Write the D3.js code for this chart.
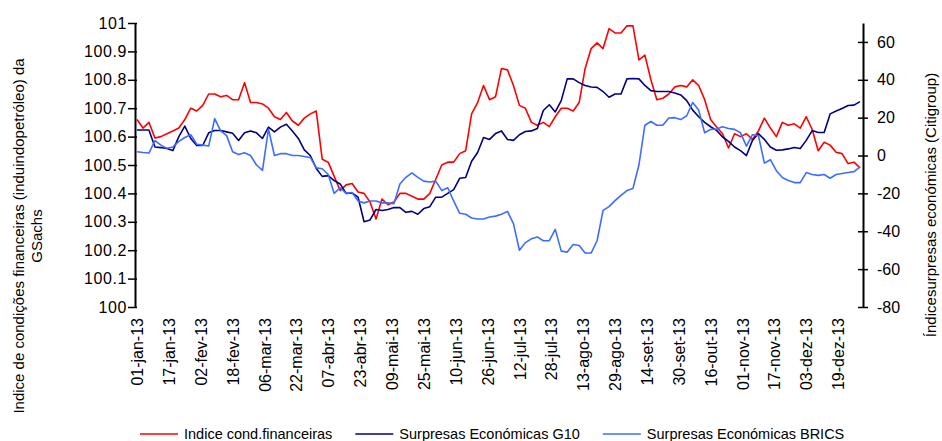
<!DOCTYPE html>
<html>
<head>
<meta charset="utf-8">
<script src="https://cdn.jsdelivr.net/npm/d3@7"></script>
<style>
  body { margin: 0; background: #fff; }
  svg { font-family: "Liberation Sans", Arial, sans-serif; }
</style>
</head>
<body>
<svg width="942" height="441"></svg>
<script>
// dates sampled every 3 days (2013)
var dates = ["01-01","01-04","01-07","01-10","01-13","01-16","01-19","01-22","01-25","01-28","01-31",
  "02-03","02-06","02-09","02-12","02-15","02-18","02-21","02-24","02-27",
  "03-02","03-05","03-08","03-11","03-14","03-17","03-20","03-23","03-26","03-29",
  "04-01","04-04","04-07","04-10","04-13","04-16","04-19","04-22","04-25","04-28",
  "05-01","05-04","05-07","05-10","05-13","05-16","05-19","05-22","05-25","05-28","05-31",
  "06-03","06-06","06-09","06-12","06-15","06-18","06-21","06-24","06-27","06-30",
  "07-03","07-06","07-09","07-12","07-15","07-18","07-21","07-24","07-27","07-30",
  "08-02","08-05","08-08","08-11","08-14","08-17","08-20","08-23","08-26","08-29",
  "09-01","09-04","09-07","09-10","09-13","09-16","09-19","09-22","09-25","09-28",
  "10-01","10-04","10-07","10-10","10-13","10-16","10-19","10-22","10-25","10-28","10-31",
  "11-03","11-06","11-09","11-12","11-15","11-18","11-21","11-24","11-27","11-30",
  "12-03","12-06","12-09","12-12","12-15","12-18","12-21","12-24","12-27","12-30"];

// Indice cond. financeiras (eixo esquerdo)
var indice = [100.66,100.63,100.65,100.595,100.60,100.61,100.62,100.63,100.66,100.70,
  100.69,100.71,100.75,100.75,100.74,100.745,100.73,100.73,100.79,100.72,
  100.72,100.715,100.70,100.67,100.66,100.685,100.655,100.64,100.665,100.68,
  100.69,100.52,100.51,100.46,100.41,100.43,100.435,100.405,100.40,100.37,
  100.31,100.38,100.36,100.37,100.40,100.40,100.39,100.38,100.38,100.40,
  100.45,100.50,100.51,100.51,100.54,100.55,100.68,100.72,100.78,100.73,
  100.74,100.84,100.835,100.78,100.71,100.70,100.65,100.64,100.65,100.635,
  100.67,100.70,100.70,100.69,100.72,100.84,100.91,100.93,100.91,100.98,
  100.965,100.965,100.99,100.99,100.87,100.887,100.80,100.73,100.735,100.75,
  100.775,100.78,100.775,100.80,100.78,100.73,100.66,100.634,100.61,100.56,
  100.61,100.60,100.61,100.59,100.62,100.665,100.63,100.60,100.65,100.64,
  100.645,100.63,100.67,100.625,100.55,100.58,100.57,100.545,100.54,100.505,
  100.51,100.49];

// Surpresas Económicas G10 (eixo direito)
var g10 = [13.5,13.5,13.5,4.5,4.2,3.7,2.6,10,15.5,9,
  5.3,5.3,12,13.2,13.2,12.5,11.8,8,12,13,
  12,9,15,12.5,15,16.5,13,9,3,0,
  -6.8,-11,-10.6,-13.2,-15,-20,-19.8,-22,-35,-34,
  -28.5,-29,-28.5,-27.5,-27.5,-30,-29.5,-31,-28,-27,
  -22,-22,-20,-18,-12,-11.6,-3,1.6,9.5,8.5,
  11.6,13,8.5,8,11,12.7,13,14.3,23.8,26.8,
  23,29,40.5,40.5,38.5,37,36.2,36,33.8,30.8,
  32.5,32.5,40.5,40.7,40.5,37,34.3,33.8,33.8,33.8,
  33,32,29,24,20.5,17.5,15.2,13.3,9.8,7.5,
  4.5,2.6,0,8,11.6,8.5,4.5,2.8,3,3.5,
  4.2,3.7,8,13.2,12.2,12.2,22,23.5,24.8,26.4,
  26.6,28.5];

// Surpresas Económicas BRICS (eixo direito)
var brics = [2,1.6,1.3,7.9,5.5,3.8,4.5,7.5,9.5,11,
  6,5.5,5,19.5,13,10.5,2,0.5,1.5,0,
  -5,-7.8,14,0,1,1,0,0,-0.5,-1,
  -6.5,-7,-10,-20,-17,-20,-19.5,-24,-25,-24,
  -24,-25,-25,-25.4,-15,-11.5,-9.2,-11.5,-13.5,-14,
  -13.5,-18.5,-17,-24,-30.5,-31,-33,-33.5,-33.5,-32.5,
  -32,-31,-29.5,-36,-50,-46,-44,-43,-45,-45,
  -39,-50.5,-51,-47,-47.5,-51.5,-51.5,-45,-29,-27,
  -23.8,-21,-18.5,-17.4,-5,16,18,16,16,19.8,
  20,19,21,28,24,12,13.8,14,15.2,14.3,
  13.8,12,5,11,10.5,-4,-2.2,-8,-11.6,-13.2,
  -14.3,-14.3,-9,-10,-10.5,-10,-12,-10,-9.5,-9,
  -8.5,-6];

var xTickDates = ["01-01","01-17","02-02","02-18","03-06","03-22","04-07","04-23","05-09","05-25",
  "06-10","06-26","07-12","07-28","08-13","08-29","09-14","09-30","10-16","11-01","11-17","12-03","12-19"];
var xTickLabels = ["01-jan-13","17-jan-13","02-fev-13","18-fev-13","06-mar-13","22-mar-13","07-abr-13",
  "23-abr-13","09-mai-13","25-mai-13","10-jun-13","26-jun-13","12-jul-13","28-jul-13","13-ago-13",
  "29-ago-13","14-set-13","30-set-13","16-out-13","01-nov-13","17-nov-13","03-dez-13","19-dez-13"];
var leftTicks = [100,100.1,100.2,100.3,100.4,100.5,100.6,100.7,100.8,100.9,101];
var leftTickLabels = ["100","100.1","100.2","100.3","100.4","100.5","100.6","100.7","100.8","100.9","101"];
var rightTicks = [-80,-60,-40,-20,0,20,40,60];
var rightTickLabels = ["-80","-60","-40","-20","0","20","40","60"];

var seriesNames = ["Indice cond.financeiras","Surpresas Económicas G10","Surpresas Económicas BRICS"];
var colors = ["#ff0000","#000080","#3d6dff"];

var parse = function(s){ return d3.timeParse("%Y-%m-%d")("2013-" + s); };
var dd = dates.map(parse);

var svg = d3.select("svg");
var plotL = 135, plotR = 863, plotT = 23, plotB = 307;

var x = d3.scaleTime()
  .domain([new Date(2013,0,1), new Date(2013,11,31)])
  .range([137, 862]);
var yL = d3.scaleLinear().domain([100, 101]).range([plotB, plotT]);
var yR = d3.scaleLinear().domain([-80, 70]).range([plotB, plotT]);

svg.append("clipPath").attr("id","plot")
  .append("rect").attr("x", plotL).attr("y", plotT - 1)
  .attr("width", plotR - plotL).attr("height", plotB - plotT + 1);

var lineL = d3.line().x(function(d,i){ return x(dd[i]); }).y(function(d){ return yL(d); });
var lineR = d3.line().x(function(d,i){ return x(dd[i]); }).y(function(d){ return yR(d); });

var plot = svg.append("g").attr("clip-path","url(#plot)");
plot.append("path").datum(indice).attr("d", lineL)
  .attr("fill","none").attr("stroke", colors[0]).attr("stroke-width",1.6).attr("stroke-linejoin","round");
plot.append("path").datum(g10).attr("d", lineR)
  .attr("fill","none").attr("stroke", colors[1]).attr("stroke-width",1.6).attr("stroke-linejoin","round");
plot.append("path").datum(brics).attr("d", lineR)
  .attr("fill","none").attr("stroke", colors[2]).attr("stroke-width",1.6).attr("stroke-linejoin","round");

// left axis
var gL = svg.append("g").attr("transform","translate(" + plotL + ",0)")
  .call(d3.axisLeft(yL).tickValues(leftTicks)
    .tickFormat(function(d,i){ return leftTickLabels[i]; })
    .tickSizeOuter(0).tickSizeInner(7).tickPadding(1));
gL.select(".domain").attr("stroke","#000").attr("stroke-width",2);
gL.selectAll(".tick line").attr("x1",2).attr("x2",-7).attr("stroke","#000").attr("stroke-width",1.5);
gL.selectAll(".tick text").attr("font-size",16).attr("fill","#000")
  .attr("font-family","Liberation Sans, Arial, sans-serif").attr("letter-spacing",0.6);

// right axis
var gR = svg.append("g").attr("transform","translate(" + plotR + ",0)")
  .call(d3.axisRight(yR).tickValues(rightTicks)
    .tickFormat(function(d,i){ return rightTickLabels[i]; })
    .tickSizeOuter(0).tickSizeInner(5).tickPadding(9));
gR.select(".domain").attr("stroke","#000").attr("stroke-width",2);
gR.selectAll(".tick line").attr("x1",-5).attr("x2",5).attr("stroke","#000").attr("stroke-width",1.5);
gR.selectAll(".tick text").attr("font-size",16).attr("fill","#000")
  .attr("font-family","Liberation Sans, Arial, sans-serif");

// x labels
var gX = svg.append("g").attr("transform","translate(0," + plotB + ")")
  .call(d3.axisBottom(x).tickValues(xTickDates.map(parse))
    .tickFormat(function(d,i){ return xTickLabels[i]; }).tickSize(0));
gX.select(".domain").remove();
gX.selectAll(".tick text")
  .attr("font-size",16).attr("fill","#000")
  .attr("font-family","Liberation Sans, Arial, sans-serif")
  .attr("text-anchor","end")
  .attr("transform","translate(0,11) rotate(-90)")
  .attr("x",0).attr("y",0).attr("dy","0.35em");

// axis titles
var tl = svg.append("text").attr("font-size",15).attr("fill","#000")
  .attr("text-anchor","middle").attr("transform","translate(24,236) rotate(-90)");
tl.append("tspan").attr("x",0).attr("y",0).text("Indice de condições financeiras (induindopetróleo) da");
tl.append("tspan").attr("x",0).attr("y",18).text("GSachs");

svg.append("text").attr("font-size",15).attr("fill","#000")
  .attr("text-anchor","middle").attr("transform","translate(936,205) rotate(-90)")
  .text("Índicesurpresas económicas (Citigroup)");

// legend
var lx = 140;
seriesNames.forEach(function(name, i){
  var g = svg.append("g").attr("transform","translate(" + lx + ",434)");
  g.append("line").attr("x1",0).attr("x2",38).attr("y1",0).attr("y2",0)
    .attr("stroke", colors[i]).attr("stroke-width",1.6);
  var t = g.append("text").attr("x",44).attr("y",0).attr("dy","0.35em")
    .attr("font-size",14.5).attr("fill","#000").text(name);
  lx += 44 + t.node().getComputedTextLength() + 23;
});
</script>
</body>
</html>
